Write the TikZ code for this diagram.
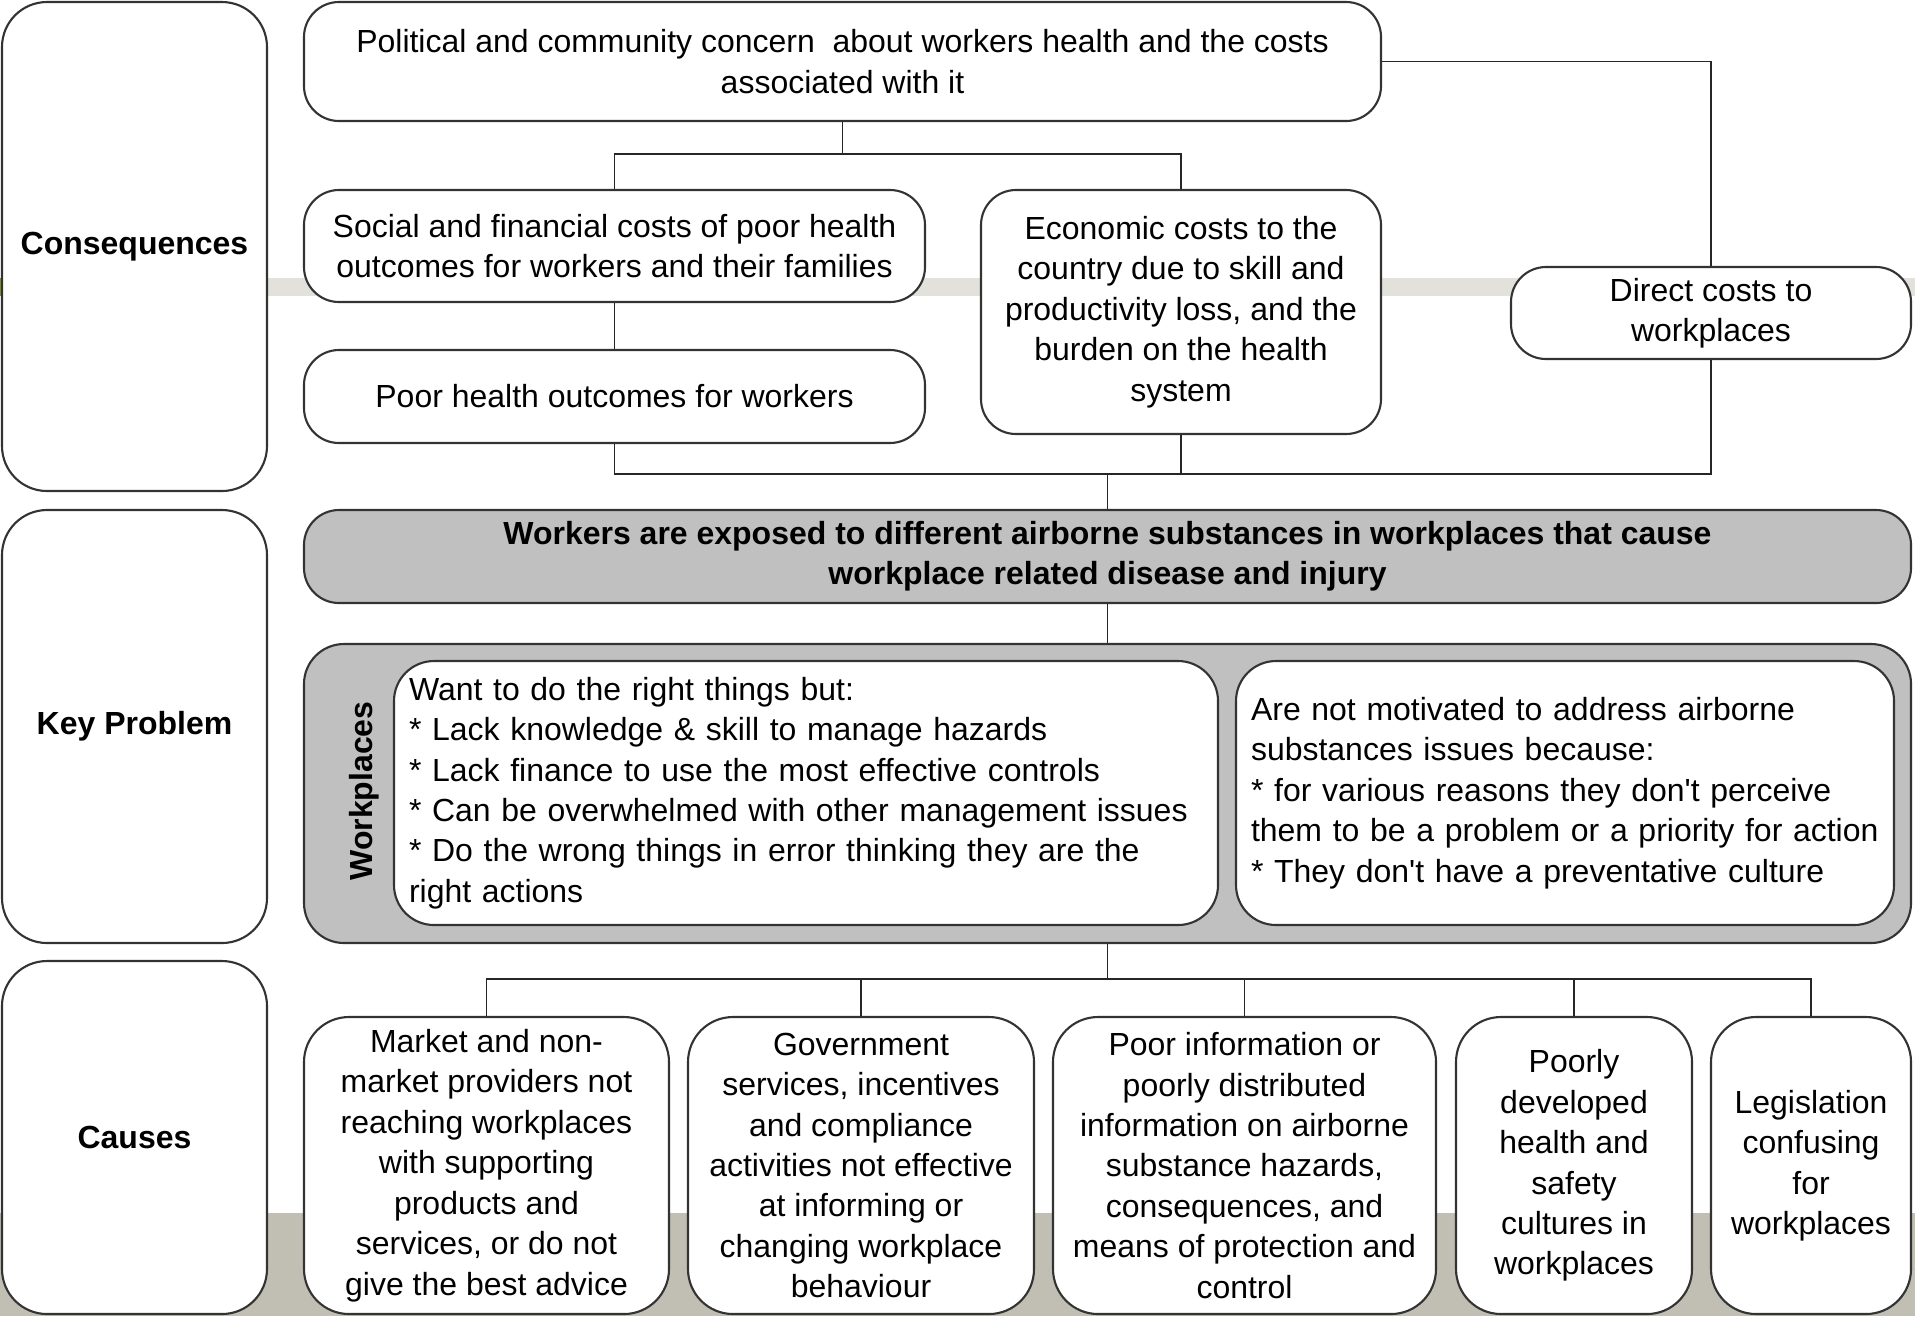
\documentclass[tikz,border=0pt]{standalone}
\usepackage{fontspec}
\setmainfont{Liberation Sans}
\newcommand\diagfont{\fontsize{9.1}{11.5}\selectfont}
\definecolor{keygray}{HTML}{C0C0C0}
\definecolor{bandlight}{HTML}{E2E1DB}
\definecolor{bandstone}{HTML}{C1BEB3}
\definecolor{bandolive}{HTML}{8E9B1E}
\tikzset{
  box/.style={draw=black!80, line width=0.6pt, fill=white, rounded corners=3.5mm,
    inner sep=0pt, align=center, font=\diagfont},
  sidebox/.style={box, rounded corners=4.5mm, minimum width=26.5mm, font=\diagfont\bfseries},
  causebox/.style={box, rounded corners=4.5mm, minimum height=29.7mm},
  greybox/.style={box, fill=keygray},
  link/.style={draw=black!85, line width=0.4pt},
}
\begin{document}
\begin{tikzpicture}[x=1mm,y=-1mm]
    \useasboundingbox (0,0) rectangle (191.5,131.6);
    \fill[bandstone] (0,121.3) rectangle (191.5,131.6);
    \fill[bandolive] (0,27.8) rectangle (2,29.6);
    \fill[bandlight] (2,27.8) rectangle (191.5,29.6);

    \node[sidebox, minimum height=48.9mm] (conseq) at (13.45,24.65) {Consequences};
    \node[sidebox, minimum height=43.3mm] (keyprob) at (13.45,72.65) {Key Problem};
    \node[sidebox, minimum height=35.3mm] (causes) at (13.45,113.75) {Causes};

    \node[box, minimum width=107.7mm, minimum height=11.9mm] (concern) at (84.25,6.15)
      {Political and community concern~ about workers health and the costs\\associated with it};
    \node[box, minimum width=62.1mm, minimum height=11.2mm] (social) at (61.45,24.6)
      {Social and financial costs of poor health\\outcomes for workers and their families};
    \node[box, minimum width=62.1mm, minimum height=9.3mm] (poorhealth) at (61.45,39.65)
      {Poor health outcomes for workers};
    \node[box, minimum width=40mm, minimum height=24.4mm] (economic) at (118.1,31.2)
      {Economic costs to the\\country due to skill and\\productivity loss, and the\\burden on the health\\system};
    \node[box, minimum width=40mm, minimum height=9.2mm] (direct) at (171.1,31.3)
      {Direct costs to\\workplaces};

    \node[greybox, minimum width=160.7mm, minimum height=9.3mm, font=\diagfont\bfseries] (workers) at (110.75,55.65)
      {Workers are exposed to different airborne substances in workplaces that cause\\workplace related disease and injury};

    \node[greybox, rounded corners=4mm, minimum width=160.7mm, minimum height=29.9mm] (workplaces) at (110.75,79.35) {};
    \node[rotate=90, font=\diagfont\bfseries] (wplabel) at (36.4,79.1) {Workplaces};
    \node[box, rounded corners=4mm, minimum width=82.4mm, minimum height=26.4mm,
      text width=79.4mm, align=left] (wantright) at (80.6,79.3)
      {Want to do the right things but:\\
       {*} Lack knowledge \& skill to manage hazards\\
       {*} Lack finance to use the most effective controls\\
       {*} Can be overwhelmed with other management issues\\
       {*} Do the wrong things in error thinking they are the\\
       right actions};
    \node[box, rounded corners=4mm, minimum width=65.8mm, minimum height=26.4mm,
      text width=62.8mm, align=left] (notmotivated) at (156.5,79.3)
      {Are not motivated to address airborne\\
       substances issues because:\\
       {*} for various reasons they don\textquotesingle t perceive\\
       \mbox{them to be a problem or a priority for action}\\
       {*} They don\textquotesingle t have a preventative culture};

    \node[causebox, minimum width=36.5mm] (market) at (48.65,116.55)
      {Market and non-\\market providers not\\reaching workplaces\\with supporting\\products and\\services, or do not\\give the best advice};
    \node[causebox, minimum width=34.6mm] (gov) at (86.1,116.55)
      {Government\\services, incentives\\and compliance\\activities not effective\\at informing or\\changing workplace\\behaviour};
    \node[causebox, minimum width=38.3mm] (info) at (124.45,116.55)
      {Poor information or\\poorly distributed\\information on airborne\\substance hazards,\\consequences, and\\means of protection and\\control};
    \node[causebox, minimum width=23.6mm] (culture) at (157.4,116.55)
      {Poorly\\developed\\health and\\safety\\cultures in\\workplaces};
    \node[causebox, minimum width=20mm] (law) at (181.1,116.55)
      {Legislation\\confusing\\for\\workplaces};

    \draw[link] (concern.south) -- ++(0,3.2) -| (social.north);
    \draw[link] (concern.south) -- ++(0,3.2) -| (economic.north);
    \draw[link] (concern.east) -| (direct.north);
    \draw[link] (social.south) -- (poorhealth.north);
    \draw[link] (poorhealth.south) -- ++(0,3) -| (economic.south);
    \coordinate (joint) at (110.75,47.4);
    \draw[link] (direct.south) |- (joint) -- (workers.north);
    \draw[link] (workers.south) -- (workplaces.north);
    \coordinate (hub) at (110.75,97.9);
    \draw[link] (workplaces.south) -- (hub);
    \foreach \c in {market,gov,info,culture,law}
      \draw[link] (hub) -| (\c.north);
\end{tikzpicture}
\end{document}
